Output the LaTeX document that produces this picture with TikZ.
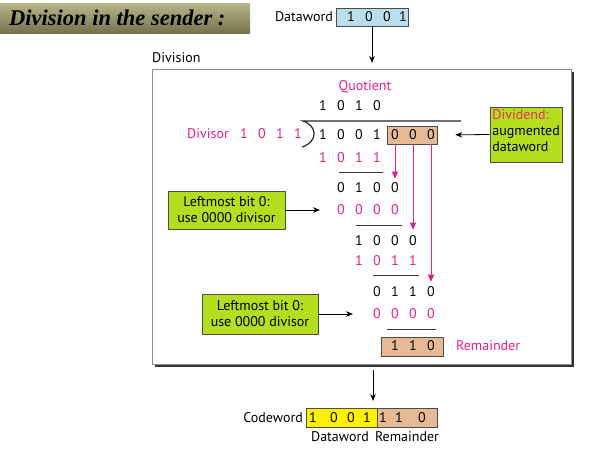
\documentclass[tikz,border=0pt]{standalone}
\usepackage{fontspec}
\setmainfont{PT Sans}
\newfontfamily\titlefont{Liberation Serif}
\usetikzlibrary{arrows.meta}
\definecolor{mag}{RGB}{226,32,140}
\definecolor{divred}{RGB}{232,50,90}
\definecolor{limeg}{RGB}{180,222,30}
\definecolor{tan}{RGB}{230,186,148}
\definecolor{lblue}{RGB}{186,222,236}
\definecolor{bantop}{RGB}{185,181,140}
\definecolor{banmid}{RGB}{246,244,214}
\definecolor{banbot}{RGB}{118,114,76}
\newcommand\digrow[5]{\foreach \d [count=\i] in {#4} {\node[#5] (#1\i) at ({#2+18*(\i-1)},#3) {\d};}}
\begin{document}
\begin{tikzpicture}[x=1pt,y=-1pt,
  font=\fontsize{14}{15}\selectfont,
  dig/.style={inner sep=0pt},
  mdig/.style={dig,text=mag},
  lbl/.style={inner sep=0pt},
  gbox/.style={draw=black!70,fill=limeg,line width=0.6pt,inner sep=1pt,align=center,font=\fontsize{14}{16}\selectfont},
  tbox/.style={draw=black!70,fill=tan,line width=0.6pt,inner sep=0pt},
  subline/.style={line width=0.8pt,black!80},
  arr/.style={-{Stealth[length=7pt,width=5.5pt]},line width=0.8pt,black},
  marr/.style={-{Triangle[length=7pt,width=6pt]},line width=1pt,mag}]
\useasboundingbox (0,0) rectangle (597,451);
% title banner
\shade[top color=bantop,middle color=banmid,bottom color=banbot] (0,3) rectangle (250,33);
\node[lbl,anchor=west,font=\titlefont\bfseries\itshape\fontsize{22.5}{24}\selectfont] (title) at (9,18) {Division in the sender :};
% top dataword
\node[lbl,anchor=east] (dwl) at (333,17) {Dataword};
\node[draw=black!70,fill=lblue,line width=0.6pt,minimum width=72pt,minimum height=18pt,inner sep=0pt] (dw) at (372,17) {};
\node[dig] (dwa) at (351,17) {1};
\node[dig] (dwb) at (369,17) {0};
\node[dig] (dwc) at (387,17) {0};
\node[dig] (dwd) at (403,17) {1};
% division box
\node[lbl,anchor=west] (divl) at (152,58) {Division};
\node[draw=black!45,fill=white,line width=0.7pt,minimum width=419pt,minimum height=295pt,inner sep=0pt,anchor=north west] (div) at (152,69) {};
\draw[line width=2.6pt,black!80] ([xshift=3pt,yshift=-1.3pt]div.south west) -- ([xshift=1.3pt,yshift=-1.3pt]div.south east) -- ([xshift=1.3pt,yshift=-3pt]div.north east);
\draw[arr,shorten >=6pt] (dw.south) -- (dw.south |- div.north);
% quotient
\node[lbl,text=mag] (quot) at (365,87) {Quotient};
\digrow{q}{323}{106}{1,0,1,0}{dig}
% divisor
\node[lbl,text=mag] (dvs) at (208,134) {Divisor};
\digrow{dv}{244}{134}{1,0,1,1}{mdig}
\coordinate (lt) at (303,121);
\coordinate (lr) at (461,121);
\coordinate (lb) at (302,147);
\draw[line width=1.2pt,black!85] (lr) -- (lt) .. controls (318,126) and (318,142) .. (lb);
% dividend
\node[tbox,minimum width=50pt,minimum height=18pt] (ob) at (412,135) {};
\digrow{a}{323}{135}{1,0,0,1,0,0,0}{dig}
\digrow{b}{323}{158}{1,0,1,1}{mdig}
\draw[subline] (339,172) -- (383,172);
\digrow{c}{341}{188}{0,1,0,0}{dig}
\digrow{d}{341}{210}{0,0,0,0}{mdig}
\draw[subline] (356,225) -- (402,225);
\digrow{e}{359}{241}{1,0,0,0}{dig}
\digrow{f}{359}{261}{1,0,1,1}{mdig}
\draw[subline] (373,275) -- (419,275);
\digrow{g}{377}{292}{0,1,1,0}{dig}
\digrow{h}{377}{314}{0,0,0,0}{mdig}
\draw[subline] (387,329) -- (436,329);
\node[tbox,minimum width=62pt,minimum height=19pt] (rb) at (412,346.5) {};
\digrow{r}{395}{346}{1,1,0}{dig}
\node[lbl,anchor=west,text=mag] (reml) at (456,346) {Remainder};
% magenta arrows
\draw[marr,shorten >=4pt] (a5 |- ob.south) -- (c4.north);
\draw[marr,shorten >=6pt] (a6 |- ob.south) -- (e4.north);
\draw[marr,shorten >=5pt] (a7 |- ob.south) -- (g4.north);
% green boxes
\node[gbox,minimum width=117pt,minimum height=38pt] (g1) at (226.5,210) {Leftmost bit 0:\\use 0000 divisor};
\draw[arr,shorten >=17pt] (g1.east) -- (d1.west);
\node[gbox,minimum width=116pt,minimum height=40pt] (g2) at (260,314) {Leftmost bit 0:\\use 0000 divisor};
\draw[arr,shorten >=20pt] (g2.east) -- (h1.west);
\node[draw=black!70,fill=limeg,line width=0.6pt,minimum width=72pt,minimum height=55pt,inner sep=0pt] (g3) at (526,134.5) {};
\begin{scope}
\clip (g3.south west) rectangle (g3.north east);
\node[lbl,anchor=north west,align=left,font=\fontsize{14}{16}\selectfont] (g3t) at ([xshift=2.5pt,yshift=-3pt]g3.north west) {\textcolor{divred}{Dividend:}\\augmented\\dataword};
\end{scope}
\draw[arr,shorten >=18pt] (g3.west) -- (ob.east);
% bottom codeword
\node[draw=black!70,fill=yellow,line width=0.6pt,minimum width=71pt,minimum height=19pt,inner sep=0pt] (cy) at (341.5,417.5) {};
\node[tbox,minimum width=60pt,minimum height=19pt] (co) at (407,417.5) {};
\node[lbl,anchor=east] (cwl) at (303,418) {Codeword};
\node[dig] (k1) at (313,418) {1};
\node[dig] (k2) at (334,418) {0};
\node[dig] (k3) at (351,418) {0};
\node[dig] (k4) at (367,418) {1};
\node[dig] (k5) at (383,418) {1};
\node[dig] (k6) at (399,418) {1};
\node[dig] (k7) at (422,418) {0};
\node[lbl] (dwlb) at (340,437) {Dataword};
\node[lbl] (rmb) at (407,437) {Remainder};
\coordinate (ca) at (373,408);
\draw[arr,shorten <=5pt,shorten >=7pt] (ca |- div.south) -- (ca);
\end{tikzpicture}
\end{document}
